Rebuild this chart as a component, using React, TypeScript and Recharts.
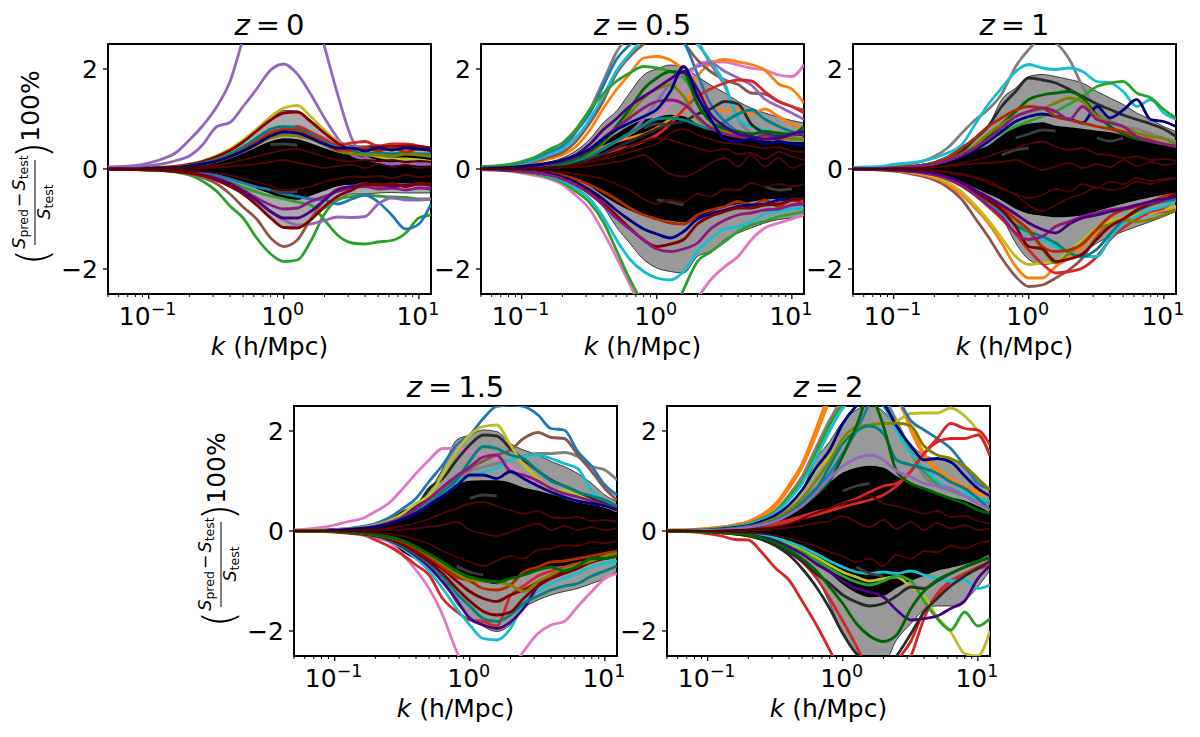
import React from 'react';
import { ComposedChart, Line, Area, XAxis, YAxis, ReferenceArea } from 'recharts';

const K = [.05,.063,.08,.1,.126,.16,.2,.25,.32,.4,.5,.63,.8,1,1.26,1.58,2,2.5,3.2,4,5,6.3,8,10,12.3];
const X_TICKS = [.05,.06,.07,.08,.09,.1,.2,.3,.4,.5,.6,.7,.8,.9,1,2,3,4,5,6,7,8,9,10];
const Y_TICKS = [-2,0,2];
const C = { blue:'#1f77b4', orange:'#ff7f0e', green:'#2ca02c', red:'#d62728', purple:'#9467bd', brown:'#8c564b', pink:'#e377c2', gray:'#7f7f7f', yellow:'#bcbd22', cyan:'#17becf', navy:'#000080', maroon:'#800000', dred:'#8b0000', mag:'#8b1a80', olive:'#808000', teal:'#008080', dgreen:'#006400', indigo:'#4b0082', ored:'#b22a00', ink:'#2a2a2a' };
const INNER = '#4f0505';
const STREAK = '#3c3c3c';
const _ = null;

// z = 0
const z0GrayHi = [0,0,.01,.02,.03,.05,.08,.14,.25,.38,.55,.76,1.0,1.17,1.16,.98,.76,.58,.47,.46,.48,.46,.48,.46,.44];
const z0GrayLo = [0,0,-.01,-.02,-.03,-.05,-.08,-.14,-.24,-.35,-.5,-.72,-1.0,-1.18,-1.17,-1.0,-.8,-.62,-.5,-.5,-.48,-.47,-.48,-.48,-.48];
const z0CoreHi = [0,0,0,.01,.02,.03,.05,.08,.13,.2,.3,.42,.54,.6,.58,.5,.4,.32,.3,.28,.28,.28,.27,.28,.27];
const z0CoreLo = [0,0,0,-.01,-.02,-.03,-.05,-.08,-.13,-.19,-.27,-.38,-.48,-.58,-.6,-.52,-.42,-.33,-.3,-.3,-.28,-.28,-.27,-.28,-.28];
const z0PurpleA = [.04,.05,.07,.12,.2,.33,.58,.86,1.25,1.75,2.6,3.4,4.0,4.3,4.2,3.4,2.45,1.5,.6,.25,.15,.1,.15,.1,.1];
const z0PurpleB = [.02,.03,.04,.07,.1,.17,.26,.48,.85,.93,1.25,1.6,1.98,2.1,1.9,1.5,1.02,.62,.28,.2,.15,.1,.12,.1,.1];
const z0Yellow = [0,0,.01,.02,.04,.06,.1,.16,.27,.4,.58,.8,1.05,1.22,1.27,1.05,.78,.55,.35,.3,.25,.2,.2,.18,.15];
const z0DarkRed = [0,0,.01,.02,.03,.05,.09,.15,.25,.37,.54,.76,.98,1.12,1.14,.95,.72,.52,.4,.42,.44,.45,.46,.45,.42];
const z0Teal = [0,0,.01,.01,.02,.04,.07,.12,.2,.3,.44,.62,.8,.85,.82,.7,.55,.42,.36,.3,.32,.3,.32,.3,.3];
const z0Red = [0,0,.01,.01,.02,.04,.07,.11,.18,.28,.4,.58,.74,.8,.85,.74,.6,.48,.52,.55,.46,.5,.5,.46,.4];
const z0Olive = [0,0,0,.01,.02,.03,.06,.09,.15,.24,.35,.48,.62,.68,.66,.6,.48,.36,.3,.28,.28,.25,.3,.28,.25];
const z0Navy = [0,0,0,.01,.02,.03,.06,.1,.16,.25,.36,.5,.66,.74,.72,.62,.5,.42,.42,.36,.42,.38,.42,.4,.38];
const z0Ored = [0,0,0,.01,.02,.04,.06,.1,.17,.26,.38,.54,.7,.78,.78,.66,.52,.38,.38,.42,.36,.42,.34,.4,.36];
const z0Brown = [0,0,-.01,-.02,-.03,-.05,-.09,-.17,-.3,-.5,-.76,-1.0,-1.38,-1.55,-1.42,-1.0,-.62,-.4,-.35,-.3,-.35,-.3,-.35,-.3,-.32];
const z0Green = [0,0,-.01,-.02,-.03,-.06,-.12,-.24,-.45,-.74,-.98,-1.38,-1.7,-1.85,-1.82,-1.45,-.9,-.62,-.55,-.52,-.54,-.56,-.57,-.6,-.6];
const z0GreenB = [0,0,-.01,-.01,-.02,-.04,-.06,-.1,-.17,-.26,-.36,-.46,-.54,-.6,-.66,-.72,-1.02,-1.32,-1.48,-1.5,-1.46,-1.43,-1.28,-.98,-.92];
const z0Blue = [0,0,0,-.01,-.01,-.03,-.05,-.08,-.13,-.2,-.28,-.36,-.42,-.5,-.55,-.6,-.62,-.7,-.6,-.52,-.66,-.92,-1.2,-1.1,-.7];
const z0PurpleLow = [0,0,-.01,-.01,-.02,-.04,-.07,-.12,-.2,-.3,-.44,-.62,-.85,-1.02,-1.12,-1.1,-1.03,-.96,-.97,-.95,-.7,-.58,-.62,-.62,-.6];
const z0Indigo = [0,0,-.01,-.01,-.02,-.04,-.07,-.12,-.2,-.3,-.45,-.63,-.85,-.98,-.98,-.85,-.62,-.42,-.35,-.32,-.3,-.35,-.32,-.3,-.33];
const z0Maroon = [0,0,-.01,-.02,-.03,-.05,-.08,-.13,-.23,-.35,-.5,-.72,-.98,-1.17,-1.18,-1.02,-.75,-.55,-.42,-.3,-.32,-.3,-.35,-.3,-.3];
const z0Mag = [0,0,-.01,-.01,-.02,-.04,-.07,-.11,-.18,-.28,-.42,-.58,-.72,-.8,-.78,-.65,-.55,-.45,-.38,-.35,-.4,-.38,-.42,-.38,-.4];
const z0InA = [0,0,0,0,.01,.02,.03,.05,.08,.12,.18,.25,.32,.38,.4,.33,.25,.18,.15,.18,.16,.18,.14,.16,.14];
const z0InB = [0,0,0,0,-.01,-.02,-.03,-.05,-.08,-.13,-.19,-.26,-.34,-.42,-.4,-.35,-.26,-.2,-.15,-.16,-.14,-.18,-.12,-.16,-.14];
const z0InC = [0,0,0,0,0,.01,.01,.02,.03,.05,.07,.1,.14,.18,.12,.08,.02,.06,.08,.02,.1,.04,.08,.02,.06];
const z0StreakA = [_,_,_,_,_,_,_,_,_,_,_,_,.49,.5,.47,_,_,_,_,_,_,_,_,_,_];
const z0StreakB = [_,_,_,_,_,_,_,_,_,_,_,_,-.42,-.47,-.45,_,_,_,_,_,_,_,_,_,_];

// z = 0.5
const z5GrayHi = [.01,.02,.03,.05,.08,.14,.22,.36,.6,.92,1.15,1.52,1.88,2.0,2.08,2.04,1.85,1.68,1.52,1.35,1.22,1.12,1.04,.97,.92];
const z5GrayLo = [-.01,-.01,-.02,-.04,-.07,-.12,-.2,-.33,-.52,-.75,-1.15,-1.48,-1.81,-1.98,-2.05,-2.08,-1.75,-1.65,-1.41,-1.28,-1.18,-1.08,-1.01,-.98,-.95];
const z5CoreHi = [.01,.01,.02,.03,.05,.08,.14,.22,.34,.52,.68,.85,.97,1.02,1.07,1.04,.88,.78,.68,.64,.6,.56,.54,.53,.52];
const z5CoreLo = [-.01,-.01,-.02,-.03,-.05,-.08,-.13,-.2,-.33,-.51,-.67,-.81,-.92,-.98,-1.02,-1.05,-.95,-.85,-.74,-.69,-.64,-.6,-.58,-.56,-.55];
const z5Green = [.05,.06,.09,.15,.24,.39,.52,.78,1.19,1.5,1.75,1.92,2.05,2.02,1.95,1.82,1.4,1.1,.8,.7,.66,.6,.62,.6,.6];
const z5Gray = [.03,.05,.07,.12,.2,.3,.39,.72,1.19,1.75,2.32,2.7,3.0,3.2,3.1,2.9,2.55,2.1,1.65,.99,.72,.6,.62,.6,.58];
const z5Blue = [.03,.05,.08,.13,.22,.34,.46,.74,1.12,1.65,2.18,2.48,2.68,2.8,2.75,2.55,1.9,1.3,.95,.75,.7,.72,.68,.62,.6];
const z5Cyan = [.02,.04,.07,.11,.18,.29,.4,.62,1.0,1.45,1.95,2.3,2.6,2.75,2.85,2.72,2.5,2.15,1.7,1.0,.85,.78,.7,.65,.6];
const z5Brown = [.02,.03,.05,.09,.15,.24,.33,.54,.92,1.35,1.9,2.25,2.5,2.65,2.7,2.52,2.18,1.95,1.78,1.69,1.52,1.5,1.35,1.25,1.18];
const z5Orange = [.01,.03,.05,.08,.13,.2,.28,.44,.78,1.2,1.58,1.9,2.22,2.25,2.18,1.98,1.6,1.3,1.15,1.2,1.1,1.2,1.05,.9,.8];
const z5OrangeB = [.01,.01,.02,.04,.07,.1,.15,.22,.32,.44,.55,.62,.7,.82,1.0,1.18,1.85,2.1,2.19,2.14,2.09,1.98,1.7,1.6,1.32];
const z5Pink = [.01,.01,.02,.03,.05,.08,.12,.18,.28,.4,.55,.7,.88,1.05,1.3,1.6,2.09,2.15,2.14,2.08,2.02,1.98,1.88,1.85,2.09];
const z5PinkLow = [-.01,-.02,-.04,-.08,-.13,-.2,-.31,-.52,-.81,-1.25,-1.75,-2.3,-2.9,-3.3,-3.4,-3.2,-2.6,-2.22,-1.95,-1.75,-1.42,-1.18,-1.08,-1.0,-.91];
const z5GreenLow = [-.01,-.02,-.03,-.06,-.1,-.17,-.27,-.44,-.68,-1.05,-1.61,-2.2,-2.7,-3.0,-3.0,-2.41,-1.85,-1.66,-1.45,-1.25,-1.12,-1.05,-.95,-.9,-.85];
const z5CyanLow = [-.01,-.01,-.02,-.05,-.08,-.14,-.23,-.38,-.6,-.95,-1.4,-1.8,-2.05,-2.18,-2.22,-2.05,-1.65,-1.4,-1.2,-1.15,-1.05,-.9,-.85,-.8,-.78];
const z5Purple = [.01,.01,.02,.03,.05,.09,.14,.2,.3,.42,.56,.72,1.0,1.35,1.7,1.92,2.05,2.12,1.95,1.82,1.68,1.4,1.25,1.12,.99];
const z5Red = [0,.01,.01,.02,.04,.06,.09,.14,.22,.3,.38,.45,.55,.68,.9,1.19,1.45,1.6,1.72,1.78,1.76,1.55,1.35,1.25,1.12];
const z5Navy = [.01,.02,.03,.05,.08,.12,.17,.26,.4,.6,.78,.92,1.05,1.19,1.55,2.05,1.45,1.0,.6,.55,.6,.5,.55,.5,.48];
const z5Indigo = [.01,.01,.02,.04,.07,.12,.18,.28,.5,.78,1.0,1.25,1.45,1.62,1.8,1.95,1.6,1.1,.85,.7,.65,.6,.62,.7,.75];
const z5Mag = [.01,.01,.02,.04,.06,.1,.16,.24,.4,.62,.82,1.02,1.22,1.35,1.38,1.3,1.05,.82,.7,.65,.6,.68,.62,.68,.72];
const z5DarkGreen = [.01,.01,.02,.03,.05,.08,.12,.2,.35,.55,.85,1.2,1.6,1.82,1.95,1.92,1.3,.95,.8,.75,.7,.75,.72,.7,.85];
const z5Olive = [.01,.01,.02,.03,.05,.08,.12,.2,.32,.52,.78,1.1,1.42,1.6,1.68,1.45,1.0,.85,.75,.68,.62,.62,.6,.62,.6];
const z5Teal = [0,.01,.01,.02,.04,.06,.1,.16,.26,.4,.56,.72,.88,1.0,1.02,.98,.88,.8,.95,1.1,1.18,1.0,.85,.75,.7];
const z5Ink = [0,.01,.01,.02,.03,.05,.08,.12,.2,.3,.42,.55,.68,.8,.9,.95,1.1,1.2,1.35,1.3,.9,.72,.65,.7,.68];
const z5MagLow = [-.01,-.01,-.02,-.04,-.07,-.12,-.2,-.32,-.5,-.72,-.98,-1.2,-1.42,-1.6,-1.65,-1.6,-1.48,-1.2,-1.02,-.92,-.88,-.82,-.8,-.72,-.7];
const z5MaroonLow = [-.01,-.01,-.02,-.04,-.07,-.12,-.19,-.3,-.47,-.68,-.92,-1.18,-1.42,-1.55,-1.5,-1.41,-1.1,-.95,-.85,-.78,-.78,-.72,-.7,-.62,-.6];
const z5NavyLow = [-.01,-.01,-.02,-.03,-.06,-.1,-.16,-.26,-.42,-.6,-.82,-1.02,-1.2,-1.3,-1.38,-1.25,-1.0,-.9,-.82,-.75,-.72,-.7,-.62,-.6,-.58];
const z5OrangeLow = [0,-.01,-.01,-.03,-.05,-.08,-.12,-.2,-.32,-.45,-.6,-.78,-.92,-1.0,-1.08,-1.1,-.92,-.82,-.75,-.65,-.72,-.62,-.75,-.62,-.7];
const z5InA = [0,0,.01,.01,.02,.03,.05,.09,.15,.22,.32,.45,.55,.62,.58,.5,.42,.35,.4,.3,.32,.2,.34,.25,.18];
const z5InB = [0,0,-.01,-.01,-.02,-.04,-.06,-.1,-.14,-.2,-.3,-.42,-.6,-.7,-.62,-.66,-.5,-.55,-.4,-.42,-.28,-.35,-.3,-.35,-.3];
const z5InC = [0,0,0,.01,.01,.02,.03,.04,.06,.1,.14,.2,.28,.1,-.1,-.15,-.05,.12,.22,.05,.28,.05,.22,.02,.12];
const z5InD = [0,0,.01,.01,.02,.03,.05,.08,.14,.2,.26,.34,.42,.5,.72,.8,.68,.6,.52,.5,.46,.42,.44,.36,.34];
const z5StreakA = [_,_,_,_,_,_,_,_,_,_,_,_,.82,.9,.88,_,_,_,_,_,_,_,_,_,_];
const z5StreakB = [_,_,_,_,_,_,_,_,_,_,_,_,_,-.62,-.66,-.72,_,_,_,_,_,_,_,_,_];
const z5StreakC = [_,_,_,_,_,_,_,_,_,_,_,_,_,_,_,_,_,_,_,_,_,-.35,-.42,-.4,_];

// z = 1
const z1GrayHi = [0,.01,.02,.03,.05,.09,.15,.26,.45,.62,.85,1.39,1.62,1.85,1.89,1.85,1.79,1.72,1.55,1.42,1.29,1.12,.99,.85,.75];
const z1GrayLo = [0,-.01,-.02,-.03,-.05,-.09,-.15,-.22,-.34,-.45,-.55,-.95,-1.48,-1.81,-1.91,-1.88,-1.81,-1.68,-1.48,-1.35,-1.25,-1.15,-1.05,-.95,-.85];
const z1CoreHi = [0,0,.01,.01,.03,.05,.08,.14,.25,.35,.45,.65,.82,.89,.92,.85,.82,.79,.75,.72,.66,.59,.52,.48,.45];
const z1CoreLo = [0,0,-.01,-.01,-.03,-.05,-.08,-.14,-.25,-.36,-.48,-.61,-.78,-.88,-.92,-.95,-.94,-.91,-.83,-.75,-.68,-.61,-.55,-.5,-.48];
const z1Cyan = [.03,.04,.05,.09,.12,.15,.22,.32,.49,.89,1.29,1.62,1.95,2.09,2.02,1.99,2.02,1.95,1.75,1.72,1.55,1.25,1.39,1.12,.99];
const z1Gray = [.01,.01,.03,.05,.09,.15,.25,.42,.72,.98,1.19,1.5,2.05,2.39,2.62,2.52,2.19,1.65,1.19,.95,.85,.8,.7,.62,.55];
const z1Green = [0,.01,.01,.02,.04,.07,.12,.2,.34,.45,.6,.72,.85,.95,1.05,1.15,1.3,1.45,1.65,1.72,1.75,1.52,1.42,1.19,1.02];
const z1Ink = [0,.01,.01,.02,.04,.07,.12,.2,.36,.6,.85,1.25,1.55,1.82,1.78,1.72,1.59,1.45,1.3,1.19,1.08,.99,.9,.8,.65];
const z1DarkGreen = [0,.01,.01,.02,.04,.06,.1,.18,.3,.45,.65,.9,1.15,1.39,1.48,1.52,1.55,1.42,1.08,.85,.7,.6,.55,.5,.45];
const z1Mag = [0,0,.01,.02,.03,.06,.1,.17,.28,.42,.6,.82,1.05,1.15,1.22,1.15,.99,1.25,.99,.92,.85,.65,.55,.5,.45];
const z1Navy = [0,0,.01,.01,.03,.05,.09,.15,.25,.38,.55,.75,.95,1.05,1.1,1.05,1.0,.92,1.25,1.02,1.18,1.39,.99,.95,.85];
const z1Ored = [0,.01,.01,.02,.04,.07,.12,.21,.42,.62,.85,1.02,1.18,1.25,1.22,1.05,.98,.92,.85,.8,.75,.65,.58,.5,.45];
const z1Olive = [0,0,.01,.02,.03,.06,.1,.17,.3,.48,.7,.9,1.05,1.15,1.2,1.32,1.42,1.35,1.05,.95,.85,.72,.65,.6,.5];
const z1Brown = [0,-.01,-.02,-.04,-.08,-.14,-.22,-.36,-.61,-.98,-1.35,-1.78,-2.15,-2.35,-2.32,-2.18,-2.01,-1.78,-1.35,-1.1,-1.0,-.95,-.88,-.85,-.82];
const z1Orange = [0,-.01,-.02,-.03,-.06,-.11,-.18,-.3,-.52,-.78,-1.08,-1.48,-1.95,-2.18,-2.18,-1.95,-1.78,-1.55,-1.25,-1.05,-.98,-.92,-.88,-.82,-.78];
const z1Yellow = [0,0,-.01,-.02,-.05,-.09,-.15,-.26,-.46,-.72,-1.02,-1.38,-1.75,-1.91,-1.88,-1.85,-1.65,-1.42,-1.18,-1.05,-.98,-.9,-.88,-.8,-.75];
const z1Red = [0,0,-.01,-.02,-.04,-.07,-.12,-.2,-.34,-.52,-.75,-1.0,-1.3,-1.62,-1.9,-2.08,-2.05,-1.98,-1.75,-1.41,-1.18,-1.0,-.85,-.78,-.6];
const z1CyanLow = [0,0,-.01,-.01,-.03,-.06,-.1,-.17,-.3,-.45,-.65,-.9,-1.15,-1.3,-1.42,-1.55,-1.68,-1.75,-1.75,-1.38,-1.1,-.95,-.82,-.75,-.62];
const z1Teal = [0,0,-.01,-.02,-.03,-.06,-.11,-.19,-.32,-.5,-.65,-.85,-1.12,-1.25,-1.35,-1.48,-1.68,-1.75,-1.6,-1.3,-1.02,-.85,-.72,-.65,-.6];
const z1OliveLow = [0,0,-.01,-.02,-.04,-.07,-.11,-.18,-.3,-.45,-.62,-.82,-1.02,-1.25,-1.6,-1.88,-1.68,-1.48,-1.21,-1.1,-1.02,-1.05,-1.01,-.92,-.81];
const z1Maroon = [0,0,-.01,-.02,-.03,-.06,-.1,-.18,-.3,-.46,-.62,-.82,-1.15,-1.55,-1.6,-1.85,-1.8,-1.7,-1.4,-1.15,-1.0,-.82,-.7,-.62,-.5];
const z1MagLow = [0,0,-.01,-.02,-.04,-.07,-.12,-.2,-.34,-.52,-.72,-.95,-1.28,-1.41,-1.35,-1.15,-1.05,-.95,-.88,-.82,-.78,-.72,-.68,-.62,-.55];
const z1OredLow = [0,0,-.01,-.02,-.03,-.06,-.1,-.17,-.29,-.44,-.6,-.78,-1.0,-1.22,-1.55,-1.65,-1.62,-1.5,-1.2,-.95,-.82,-.75,-.65,-.55,-.5];
const z1IndigoLow = [0,0,0,-.01,-.03,-.05,-.09,-.16,-.27,-.42,-.56,-.72,-.9,-1.08,-1.21,-1.28,-1.1,-.98,-.92,-.85,-.8,-.72,-.65,-.6,-.55];
const z1InA = [0,0,0,.01,.01,.02,.04,.07,.12,.18,.25,.35,.42,.5,.55,.45,.38,.42,.3,.28,.22,.25,.18,.2,.16];
const z1InB = [0,0,0,-.01,-.01,-.02,-.04,-.07,-.12,-.18,-.28,-.4,-.5,-.58,-.52,-.4,-.45,-.3,-.38,-.25,-.3,-.18,-.24,-.2,-.18];
const z1InC = [0,0,0,0,-.01,-.02,-.03,-.05,-.1,-.16,-.24,-.38,-.52,-.72,-.84,-.72,-.58,-.5,-.36,-.42,-.38,-.25,-.3,-.22,-.2];
const z1InD = [0,0,0,.01,.01,.02,.03,.05,.08,.11,.12,.14,.18,.08,-.02,.05,.12,.02,.1,.04,.18,.06,.14,.08,.12];
const z1StreakA = [_,_,_,_,_,_,_,_,_,_,_,_,.62,.7,.78,.76,_,_,_,_,_,_,_,_,_];
const z1StreakB = [_,_,_,_,_,_,_,_,_,_,_,_,_,_,_,_,_,_,.62,.56,.62,_,_,_,_];
const z1StreakC = [_,_,_,_,_,_,_,_,_,_,_,.28,.38,.42,_,_,_,_,_,_,_,_,_,_,_];

// z = 1.5
const z15GrayHi = [0,.01,.01,.02,.04,.07,.12,.2,.33,.5,.8,1.25,1.82,1.92,2.02,1.99,1.75,1.62,1.52,1.39,1.29,1.15,.95,.72,.59];
const z15GrayLo = [0,-.01,-.01,-.02,-.04,-.07,-.12,-.2,-.34,-.5,-.72,-.95,-1.45,-1.71,-1.91,-2.01,-1.88,-1.55,-1.38,-1.28,-1.21,-1.15,-1.05,-.95,-.81];
const z15CoreHi = [0,0,0,.01,.03,.07,.12,.22,.39,.52,.65,.79,.92,.99,1.0,1.0,.95,.85,.79,.72,.65,.59,.52,.45,.39];
const z15CoreLo = [0,0,0,-.01,-.03,-.06,-.11,-.2,-.41,-.55,-.65,-.75,-.88,-.95,-1.01,-1.05,-.95,-.88,-.78,-.71,-.68,-.61,-.55,-.48,-.41];
const z15Pink = [.02,.04,.07,.12,.19,.25,.39,.55,.85,1.15,1.42,1.65,1.65,1.59,1.52,1.42,1.29,1.12,.95,.82,.68,.6,.55,.5,.4];
const z15Blue = [0,.01,.01,.03,.05,.09,.15,.26,.45,.65,.99,1.32,1.72,1.92,2.25,2.49,2.52,2.49,2.32,2.05,2.02,1.59,1.29,.92,.72];
const z15Yellow = [0,.01,.01,.02,.04,.07,.12,.2,.35,.55,.72,1.12,1.6,1.92,2.09,2.12,1.72,1.32,1.05,.79,.82,.72,.6,.5,.42];
const z15Brown = [0,0,.01,.02,.03,.06,.1,.17,.28,.42,.6,.82,1.05,1.25,1.4,1.52,1.62,1.85,1.97,1.87,1.85,1.52,1.19,.85,.62];
const z15Gray = [0,0,.01,.02,.03,.06,.1,.17,.28,.42,.6,.82,1.05,1.2,1.28,1.35,1.42,1.5,1.55,1.55,1.57,1.49,1.29,1.22,1.02];
const z15CyanUp = [0,0,.01,.01,.03,.05,.09,.15,.25,.38,.55,.75,.98,1.1,1.18,1.25,1.42,1.49,1.52,1.45,1.35,1.25,.8,.6,.5];
const z15Ink = [0,0,.01,.02,.03,.06,.1,.17,.3,.48,.85,1.05,1.42,1.72,1.92,1.9,1.65,1.42,1.2,1.02,.9,.78,.65,.55,.45];
const z15Mag = [0,0,.01,.02,.03,.06,.1,.17,.28,.45,.65,.88,1.1,1.28,1.48,1.52,1.19,1.12,1.0,.85,.75,.68,.6,.52,.45];
const z15Teal = [0,0,.01,.01,.03,.05,.09,.15,.25,.38,.55,.78,1.02,1.4,1.69,1.65,1.52,1.45,1.2,1.0,.9,.78,.7,.62,.5];
const z15Navy = [0,0,.01,.01,.03,.05,.08,.14,.24,.36,.52,.7,.9,1.12,1.12,1.05,1.19,1.05,.9,.78,.68,.6,.55,.5,.42];
const z15PinkLow = [0,-.01,-.01,-.02,-.04,-.08,-.14,-.21,-.48,-.78,-1.15,-1.68,-2.41,-2.9,-3.1,-3.1,-2.8,-2.41,-2.05,-1.88,-1.81,-1.51,-1.21,-.95,-.85];
const z15RedLow = [0,0,-.01,-.02,-.04,-.07,-.18,-.3,-.48,-.68,-.88,-1.35,-1.61,-1.78,-1.81,-1.9,-1.3,-1.1,-.9,-.8,-.72,-.65,-.58,-.52,-.45];
const z15CyanLow = [0,0,-.01,-.01,-.03,-.06,-.11,-.2,-.35,-.55,-.8,-1.15,-1.55,-1.88,-2.15,-2.18,-1.95,-1.45,-1.2,-1.05,-.95,-.85,-.72,-.65,-.6];
const z15Indigo = [0,0,-.01,-.01,-.03,-.06,-.1,-.18,-.32,-.5,-.72,-1.02,-1.38,-1.75,-1.88,-1.95,-1.82,-1.55,-1.1,-.88,-.78,-.7,-.62,-.55,-.5];
const z15TealLow = [0,0,-.01,-.01,-.03,-.05,-.1,-.17,-.3,-.46,-.66,-.92,-1.25,-1.5,-1.75,-1.81,-1.68,-1.45,-1.3,-1.18,-1.1,-1.05,-.9,-.8,-.7];
const z15MaroonA = [0,0,-.01,-.01,-.03,-.05,-.09,-.16,-.28,-.44,-.62,-.85,-1.15,-1.4,-1.61,-1.68,-1.62,-1.35,-1.1,-.95,-.85,-.75,-.62,-.55,-.5];
const z15MaroonB = [0,0,-.01,-.01,-.03,-.05,-.09,-.15,-.26,-.4,-.56,-.76,-1.0,-1.21,-1.35,-1.41,-1.28,-1.18,-1.02,-.9,-.8,-.7,-.6,-.5,-.45];
const z15Ored = [0,0,0,-.01,-.02,-.04,-.08,-.13,-.22,-.35,-.52,-.72,-.92,-1.0,-1.15,-1.18,-1.08,-.82,-.72,-.62,-.6,-.55,-.5,-.45,-.4];
const z15OliveLow = [0,0,0,-.01,-.02,-.04,-.07,-.12,-.2,-.32,-.48,-.66,-.85,-.98,-1.0,-1.02,-1.08,-1.21,-1.01,-.88,-.75,-.68,-.6,-.5,-.45];
const z15GreenLow = [0,0,0,-.01,-.02,-.04,-.07,-.12,-.2,-.32,-.46,-.62,-.8,-.92,-.98,-1.02,-.95,-.88,-.78,-.72,-.8,-.7,-.55,-.55,-.5];
const z15InA = [0,0,0,0,.01,.02,.03,.06,.1,.16,.24,.35,.45,.55,.58,.5,.42,.35,.4,.28,.25,.28,.2,.22,.18];
const z15InB = [0,0,0,0,-.01,-.02,-.04,-.06,-.1,-.17,-.26,-.4,-.52,-.62,-.7,-.6,-.5,-.55,-.38,-.35,-.28,-.3,-.22,-.24,-.2];
const z15InC = [0,0,0,0,0,.01,.01,.02,.03,.05,.08,.12,.18,.02,-.05,-.1,-.02,.08,.15,.02,.1,.02,.08,.02,.06];
const z15StreakA = [_,_,_,_,_,_,_,_,_,_,_,_,_,.65,.72,.7,_,_,_,_,_,_,_,_,_];
const z15StreakB = [_,_,_,_,_,_,_,_,_,_,_,_,-.7,-.82,-.88,_,_,_,_,_,_,_,_,_,_];

// z = 2
const z2GrayHi = [0,0,.01,.02,.03,.06,.1,.18,.3,.52,.82,1.42,1.79,2.19,2.42,2.52,2.39,2.05,1.72,1.52,1.45,1.45,1.25,1.02,.82];
const z2GrayLo = [0,0,-.01,-.02,-.03,-.06,-.1,-.17,-.28,-.42,-.6,-.9,-1.45,-2.05,-2.48,-2.65,-2.65,-2.18,-1.85,-1.58,-1.5,-1.5,-1.38,-1.12,-.78];
const z2CoreHi = [0,0,0,.01,.02,.03,.05,.09,.18,.32,.52,.75,.95,1.15,1.25,1.29,1.25,1.08,.92,.82,.75,.66,.59,.48,.35];
const z2CoreLo = [0,0,0,-.01,-.02,-.03,-.05,-.09,-.18,-.31,-.44,-.58,-.82,-1.05,-1.22,-1.31,-1.28,-1.12,-.98,-.88,-.78,-.72,-.65,-.56,-.45];
const z2Orange = [.02,.02,.03,.05,.08,.13,.19,.32,.55,.92,1.35,2.02,2.75,3.1,3.4,3.5,3.3,2.8,2.0,1.5,1.2,1.0,.85,.75,.7];
const z2OrangeB = [.01,.02,.03,.05,.07,.12,.18,.3,.5,.85,1.28,1.9,2.6,3.0,3.2,3.3,3.1,2.65,2.1,1.55,1.25,1.05,.9,.8,.72];
const z2Gray = [.01,.01,.02,.03,.06,.1,.15,.25,.42,.72,1.09,1.65,2.22,2.65,2.9,2.95,2.7,2.2,1.6,1.1,.9,.8,.7,.62,.55];
const z2Green = [.01,.01,.02,.03,.05,.09,.14,.24,.4,.68,1.0,1.55,2.12,2.55,2.8,2.9,2.6,2.1,1.55,1.2,.95,.85,.72,.65,.6];
const z2Cyan = [0,.01,.01,.03,.05,.08,.13,.22,.37,.62,.95,1.45,2.0,2.45,2.7,2.75,2.5,2.0,1.55,1.25,1.0,.85,.75,.65,.6];
const z2Navy = [0,.01,.01,.02,.04,.07,.11,.19,.32,.52,.82,1.25,1.62,2.15,2.5,2.7,2.55,2.1,1.7,1.42,1.45,1.38,1.1,.85,.7];
const z2Yellow = [0,.01,.01,.02,.04,.06,.1,.17,.3,.5,.78,1.2,1.5,1.8,2.0,2.1,2.15,2.2,2.35,2.36,2.36,2.46,2.3,2.0,1.55];
const z2Olive = [0,0,.01,.02,.03,.05,.09,.15,.26,.42,.65,1.0,1.4,1.85,2.08,2.12,2.15,2.16,2.1,1.7,1.52,1.45,1.3,1.05,.82];
const z2Blue = [0,0,.01,.02,.03,.05,.08,.14,.24,.38,.58,.85,1.15,1.55,2.0,2.55,3.0,2.7,2.2,2.02,1.85,1.65,1.3,.95,.85];
const z2Teal = [0,0,.01,.01,.03,.05,.08,.13,.22,.36,.55,.82,1.3,1.75,2.0,2.1,1.95,1.42,1.32,1.25,1.15,.98,.85,.65,.42];
const z2DarkGreen = [0,0,.01,.01,.02,.04,.07,.11,.2,.33,.5,.72,1.0,1.5,2.1,2.7,2.1,1.2,.95,.85,.75,.65,.55,.42,.35];
const z2Red = [0,0,0,.01,.02,.04,.06,.1,.15,.22,.3,.38,.45,.55,.65,.78,.9,.95,1.2,1.55,1.85,2.15,2.05,2.02,1.72];
const z2RedB = [0,0,0,.01,.02,.03,.05,.08,.12,.18,.25,.32,.4,.48,.55,.62,.72,.9,1.2,1.55,1.78,1.85,1.85,1.92,1.5];
const z2Purple = [0,0,.01,.01,.02,.04,.07,.12,.2,.33,.5,.75,1.05,1.3,1.45,1.52,1.42,1.2,1.08,.95,.9,.85,.7,.55,.42];
const z2RedLow = [0,-.01,-.02,-.05,-.1,-.17,-.18,-.42,-.75,-.98,-1.4,-1.85,-2.38,-2.9,-3.3,-3.5,-3.4,-3.0,-2.5,-1.75,-1.25,-1.0,-.85,-.75,-.7];
const z2RedLowB = [0,-.01,-.01,-.02,-.04,-.06,-.1,-.16,-.28,-.42,-.62,-.92,-1.35,-1.8,-2.3,-2.85,-3.1,-2.62,-2.2,-1.6,-1.3,-1.02,-.85,-.72,-.62];
const z2Ink = [0,0,-.01,-.02,-.03,-.06,-.1,-.17,-.3,-.48,-.75,-1.1,-1.55,-2.05,-2.45,-2.65,-2.8,-2.5,-2.05,-1.62,-1.35,-1.1,-.9,-.75,-.6];
const z2InkB = [0,0,-.01,-.01,-.03,-.05,-.09,-.15,-.26,-.42,-.6,-.85,-1.05,-1.28,-1.42,-1.5,-1.45,-1.3,-1.12,-1.15,-1.0,-.85,-.72,-.62,-.52];
const z2DarkLow = [0,0,-.01,-.01,-.02,-.05,-.08,-.14,-.24,-.38,-.55,-.78,-1.12,-1.45,-1.85,-2.1,-2.21,-2.08,-1.55,-1.2,-.98,-.85,-.72,-.6,-.55];
const z2Indigo = [0,0,0,-.01,-.02,-.04,-.07,-.12,-.2,-.32,-.46,-.65,-.82,-1.0,-1.15,-1.22,-1.32,-1.58,-1.78,-1.75,-1.7,-1.55,-1.4,-.95,-.7];
const z2GreenLow = [0,0,0,-.01,-.02,-.04,-.06,-.11,-.18,-.3,-.42,-.58,-.75,-.9,-1.02,-1.08,-1.0,-.9,-1.0,-1.4,-1.75,-1.98,-1.62,-1.9,-1.75];
const z2YellowLow = [0,0,0,-.01,-.02,-.03,-.05,-.09,-.16,-.26,-.38,-.52,-.68,-.82,-.92,-1.0,-.95,-.92,-1.12,-1.3,-1.72,-2.02,-2.45,-2.5,-2.0];
const z2CyanLow = [0,0,0,-.01,-.01,-.03,-.05,-.08,-.14,-.22,-.32,-.45,-.6,-.72,-.82,-.85,-.82,-.85,-.8,-.88,-.95,-1.0,-.98,-1.15,-1.08];
const z2InA = [0,0,0,0,.01,.02,.03,.05,.08,.14,.24,.36,.46,.55,.62,.7,.55,.5,.42,.35,.4,.28,.3,.2,.15];
const z2InB = [0,0,0,0,-.01,-.02,-.03,-.05,-.09,-.15,-.22,-.3,-.42,-.5,-.62,-.55,-.7,-.48,-.55,-.4,-.42,-.3,-.35,-.25,-.2];
const z2InC = [0,0,0,0,0,.01,.01,.02,.04,.07,.1,.16,.2,.3,.18,.08,.22,.04,.18,.02,.16,.05,.12,.02,.05];
const z2StreakA = [_,_,_,_,_,_,_,_,_,_,_,_,_,.8,.9,.95,_,_,_,_,_,_,_,_,_];
const z2StreakB = [_,_,_,_,_,_,_,_,_,_,_,_,_,_,-.72,-.85,-.9,_,_,_,_,_,_,_,_];

type S = [string, number[]];
const z0Lines: S[] = [[C.purple,z0PurpleA],[C.purple,z0PurpleB],[C.green,z0Green],[C.green,z0GreenB],[C.blue,z0Blue],[C.purple,z0PurpleLow],[C.brown,z0Brown],[C.yellow,z0Yellow],[C.red,z0Red],[C.dred,z0DarkRed],[C.teal,z0Teal],[C.olive,z0Olive],[C.ored,z0Ored],[C.navy,z0Navy],[C.mag,z0Mag],[C.indigo,z0Indigo],[C.maroon,z0Maroon]];
const z5Lines: S[] = [[C.pink,z5PinkLow],[C.green,z5GreenLow],[C.cyan,z5CyanLow],[C.pink,z5Pink],[C.orange,z5Orange],[C.orange,z5OrangeB],[C.brown,z5Brown],[C.gray,z5Gray],[C.cyan,z5Cyan],[C.blue,z5Blue],[C.green,z5Green],[C.purple,z5Purple],[C.red,z5Red],[C.ink,z5Ink],[C.teal,z5Teal],[C.olive,z5Olive],[C.dgreen,z5DarkGreen],[C.mag,z5Mag],[C.indigo,z5Indigo],[C.navy,z5Navy],[C.ored,z5OrangeLow],[C.navy,z5NavyLow],[C.maroon,z5MaroonLow],[C.mag,z5MagLow]];
const z1Lines: S[] = [[C.gray,z1Gray],[C.cyan,z1Cyan],[C.green,z1Green],[C.ink,z1Ink],[C.dgreen,z1DarkGreen],[C.navy,z1Navy],[C.olive,z1Olive],[C.ored,z1Ored],[C.mag,z1Mag],[C.brown,z1Brown],[C.orange,z1Orange],[C.yellow,z1Yellow],[C.red,z1Red],[C.cyan,z1CyanLow],[C.teal,z1Teal],[C.olive,z1OliveLow],[C.ored,z1OredLow],[C.maroon,z1Maroon],[C.mag,z1MagLow],[C.indigo,z1IndigoLow]];
const z15Lines: S[] = [[C.pink,z15Pink],[C.pink,z15PinkLow],[C.gray,z15Gray],[C.brown,z15Brown],[C.blue,z15Blue],[C.cyan,z15CyanUp],[C.red,z15RedLow],[C.cyan,z15CyanLow],[C.ink,z15Ink],[C.yellow,z15Yellow],[C.teal,z15Teal],[C.mag,z15Mag],[C.navy,z15Navy],[C.indigo,z15Indigo],[C.teal,z15TealLow],[C.maroon,z15MaroonA],[C.maroon,z15MaroonB],[C.ored,z15Ored],[C.olive,z15OliveLow],[C.dgreen,z15GreenLow]];
const z2Lines: S[] = [[C.orange,z2Orange],[C.orange,z2OrangeB],[C.gray,z2Gray],[C.green,z2Green],[C.cyan,z2Cyan],[C.yellow,z2Yellow],[C.blue,z2Blue],[C.red,z2Red],[C.red,z2RedB],[C.navy,z2Navy],[C.olive,z2Olive],[C.teal,z2Teal],[C.dgreen,z2DarkGreen],[C.purple,z2Purple],[C.red,z2RedLow],[C.red,z2RedLowB],[C.yellow,z2YellowLow],[C.green,z2GreenLow],[C.cyan,z2CyanLow],[C.indigo,z2Indigo],[C.ink,z2Ink],[C.ink,z2InkB],[C.dgreen,z2DarkLow]];

const FONT = '"DejaVu Sans", sans-serif';
const PL = 110, PT = 44, PW = 323, PH = 250;

function XTick({ x, y, payload }: any) {
  const v = payload.value;
  const major = v === .1 || v === 1 || v === 10;
  const exp = v === .1 ? '−1' : v === 1 ? '0' : '1';
  return (
    <g>
      <line x1={x} x2={x} y1={y} y2={y + (major ? 5 : 3)} stroke="#000" strokeWidth={major ? 1.3 : 1} />
      {major && (
        <text x={x - 1} y={y + 31} textAnchor="middle" fontSize={25} fontFamily={FONT} fill="#000">
          10<tspan dy={-10} fontSize={17.5}>{exp}</tspan>
        </text>
      )}
    </g>
  );
}

function YTick({ x, y, payload }: any) {
  const v = payload.value;
  return (
    <g>
      <line x1={x} x2={x - 5} y1={y} y2={y} stroke="#000" strokeWidth={1.3} />
      <text x={x - 10} y={y + 9} textAnchor="end" fontSize={25} fontFamily={FONT} fill="#000">{v < 0 ? '−' + Math.abs(v) : v}</text>
    </g>
  );
}

function Sub({ t }: { t: string }) {
  return <tspan dy={3} fontSize={12.5}>{t}</tspan>;
}

function YLabel() {
  const rot = (px: number, py: number) => `translate(${PL + px},${PT + py}) rotate(-90)`;
  const f = { fontFamily: FONT, fill: '#000' };
  return (
    <g>
      <text transform={rot(-83, 158)} textAnchor="middle" fontSize={17.5} {...f}>
        <tspan fontStyle="italic">S</tspan><Sub t="pred" /><tspan dy={-3} dx={2}>−</tspan><tspan dx={2} fontStyle="italic">S</tspan><Sub t="test" />
      </text>
      <line x1={PL - 73} x2={PL - 73} y1={PT + 116} y2={PT + 201} stroke="#000" strokeWidth={1} />
      <text transform={rot(-58, 158)} textAnchor="middle" fontSize={17.5} {...f}>
        <tspan fontStyle="italic">S</tspan><Sub t="test" />
      </text>
      <text transform={rot(-75, 213)} textAnchor="middle" dominantBaseline="central" fontSize={42} fontWeight={200} {...f}>(</text>
      <text transform={rot(-75, 106)} textAnchor="middle" dominantBaseline="central" fontSize={42} fontWeight={200} {...f}>)</text>
      <text transform={rot(-69, 62)} textAnchor="middle" fontSize={25} {...f}>100%</text>
    </g>
  );
}

type PanelProps = { left: number; top: number; title: string; hi: number[]; lo: number[]; coreHi: number[]; coreLo: number[]; lines: S[]; inner: number[][]; streaks: (number | null)[][]; gray: string; ylabel?: boolean };

function Panel({ left, top, title, hi, lo, coreHi, coreLo, lines, inner, streaks, gray, ylabel }: PanelProps) {
  const data = K.map((k, i) => {
    const row: any = { k, band: [lo[i], hi[i]], core: [coreLo[i], coreHi[i]] };
    lines.forEach((l, j) => { row['s' + j] = l[1][i]; });
    inner.forEach((l, j) => { row['i' + j] = l[i]; });
    streaks.forEach((l, j) => { row['g' + j] = l[i]; });
    return row;
  });
  return (
    <div style={{ position: 'absolute', left: left - PL, top: top - PT }}>
      <ComposedChart width={PL + PW + 20} height={PT + PH + 80} data={data} margin={{ top: PT, left: 0, right: 20, bottom: 0 }}>
        <XAxis dataKey="k" type="number" scale="log" domain={[.05, 12.3]} allowDataOverflow ticks={X_TICKS} interval={0} height={80} tickSize={0} tickMargin={0} axisLine={false} tickLine={false} tick={<XTick />} />
        <YAxis type="number" domain={[-2.5, 2.5]} allowDataOverflow ticks={Y_TICKS} interval={0} width={PL} tickSize={0} tickMargin={0} axisLine={false} tickLine={false} tick={<YTick />} />
        <Area dataKey="band" type="monotone" fill={gray} fillOpacity={1} stroke="#000" strokeWidth={0.7} dot={false} activeDot={false} isAnimationActive={false} />
        {lines.map((l, j) => (
          <Line key={j} dataKey={'s' + j} type="monotone" stroke={l[0]} strokeWidth={2.8} dot={false} activeDot={false} isAnimationActive={false} />
        ))}
        <Area dataKey="core" type="monotone" fill="#000" fillOpacity={1} stroke="#000" strokeWidth={1.5} dot={false} activeDot={false} isAnimationActive={false} />
        {streaks.map((_s, j) => (
          <Line key={'g' + j} dataKey={'g' + j} type="monotone" stroke={STREAK} strokeWidth={2.8} dot={false} activeDot={false} isAnimationActive={false} />
        ))}
        {inner.map((_s, j) => (
          <Line key={'i' + j} dataKey={'i' + j} type="monotone" stroke={INNER} strokeWidth={1.8} dot={false} activeDot={false} isAnimationActive={false} />
        ))}
        <ReferenceArea x1={.05} x2={12.3} y1={-2.5} y2={2.5} fill="none" stroke="#000" strokeWidth={2} ifOverflow="visible" />
        <text x={PL + PW / 2} y={PT - 9} textAnchor="middle" fontSize={29} fontFamily={FONT} fill="#000">
          <tspan fontStyle="italic">z</tspan><tspan dx={6}>=</tspan><tspan dx={6}>{title}</tspan>
        </text>
        <text x={PL + PW / 2} y={PT + PH + 61} textAnchor="middle" fontSize={25} fontFamily={FONT} fill="#000">
          <tspan fontStyle="italic">k</tspan> (h/Mpc)
        </text>
        {ylabel && <YLabel />}
      </ComposedChart>
    </div>
  );
}

export default function App() {
  return (
    <div style={{ position: 'absolute', left: 0, top: 0, width: 1200, height: 737, overflow: 'hidden', background: '#fff' }}>
      <Panel left={108} top={44} title="0" hi={z0GrayHi} lo={z0GrayLo} coreHi={z0CoreHi} coreLo={z0CoreLo} lines={z0Lines} inner={[z0InA, z0InB, z0InC]} streaks={[z0StreakA, z0StreakB]} gray="#aaaaaa" ylabel />
      <Panel left={481} top={44} title="0.5" hi={z5GrayHi} lo={z5GrayLo} coreHi={z5CoreHi} coreLo={z5CoreLo} lines={z5Lines} inner={[z5InA, z5InB, z5InC, z5InD]} streaks={[z5StreakA, z5StreakB, z5StreakC]} gray="#999999" />
      <Panel left={853} top={44} title="1" hi={z1GrayHi} lo={z1GrayLo} coreHi={z1CoreHi} coreLo={z1CoreLo} lines={z1Lines} inner={[z1InA, z1InB, z1InC, z1InD]} streaks={[z1StreakA, z1StreakB, z1StreakC]} gray="#999999" />
      <Panel left={294} top={406} title="1.5" hi={z15GrayHi} lo={z15GrayLo} coreHi={z15CoreHi} coreLo={z15CoreLo} lines={z15Lines} inner={[z15InA, z15InB, z15InC]} streaks={[z15StreakA, z15StreakB]} gray="#999999" ylabel />
      <Panel left={667} top={406} title="2" hi={z2GrayHi} lo={z2GrayLo} coreHi={z2CoreHi} coreLo={z2CoreLo} lines={z2Lines} inner={[z2InA, z2InB, z2InC]} streaks={[z2StreakA, z2StreakB]} gray="#999999" />
    </div>
  );
}
